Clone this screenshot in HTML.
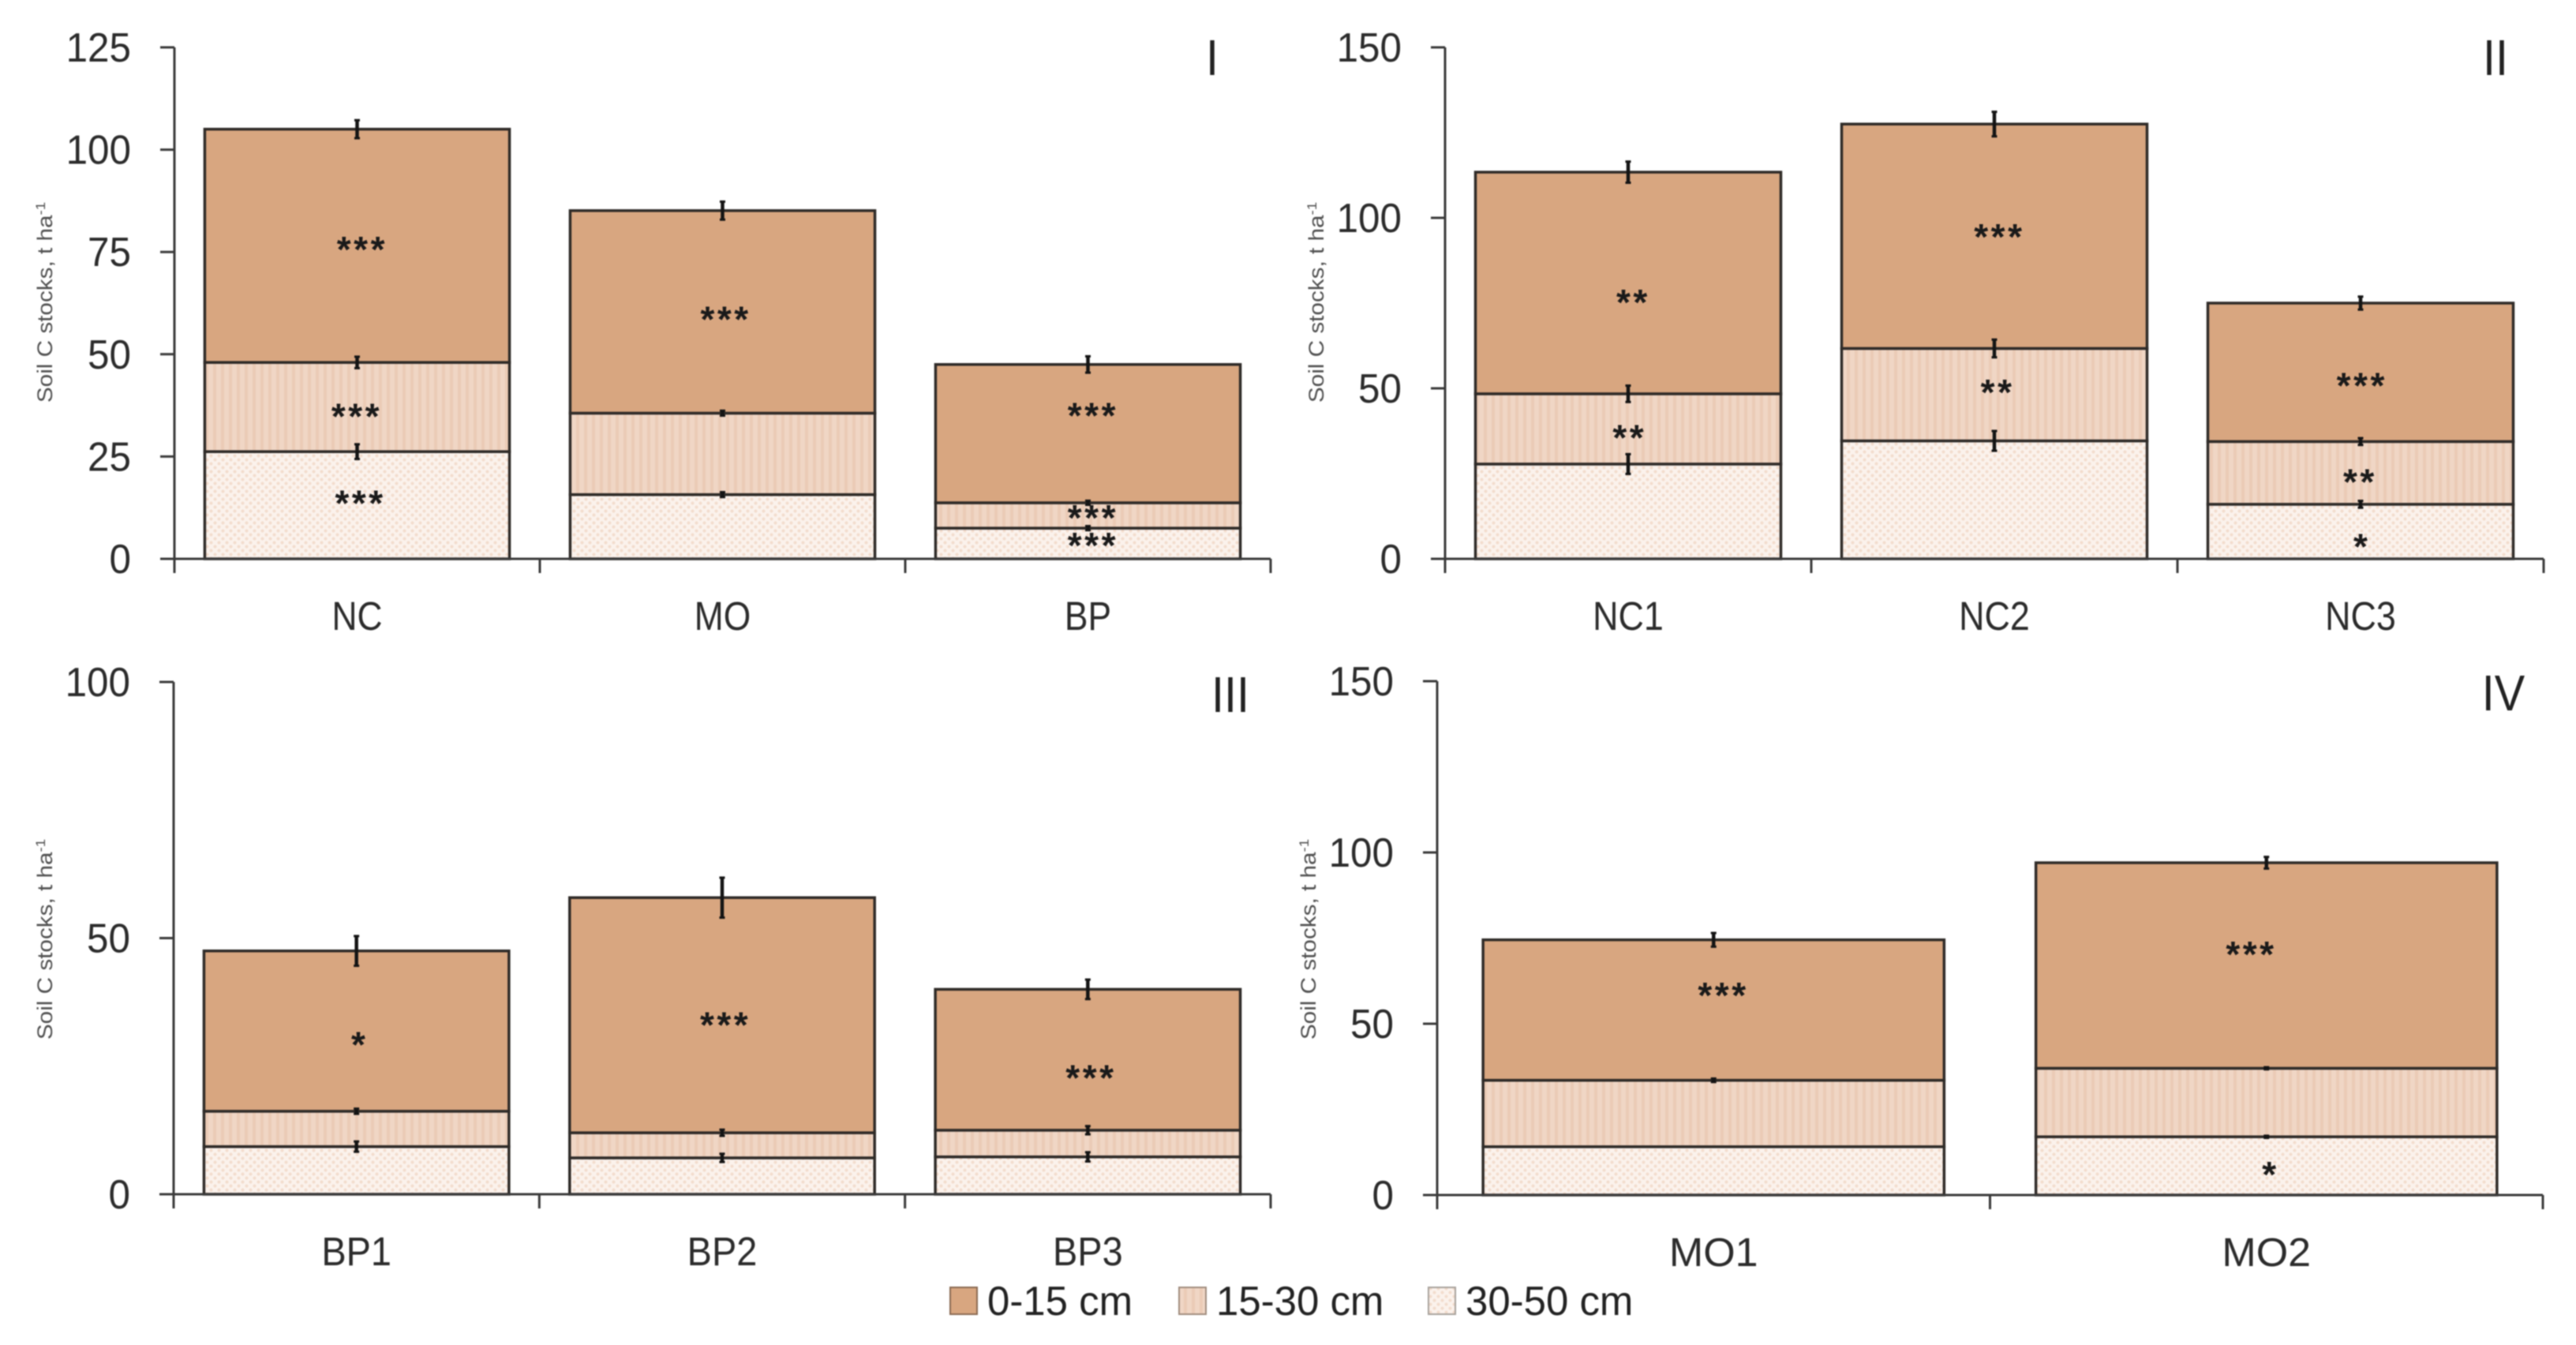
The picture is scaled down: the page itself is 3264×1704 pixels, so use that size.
<!DOCTYPE html>
<html lang="en">
<head>
<meta charset="utf-8">
<title>Soil C stocks by depth</title>
<style>
html,body{margin:0;padding:0;background:#fff;width:3264px;height:1704px;overflow:hidden}
svg{display:block;filter:blur(0.9px)}
text{font-family:"Liberation Sans",sans-serif}
</style>
</head>
<body>
<svg id="chart" xmlns="http://www.w3.org/2000/svg" width="3264" height="1704" viewBox="0 0 3264 1704">
<defs>
<pattern id="hatch-mid" width="10" height="10" patternUnits="userSpaceOnUse">
<rect width="10" height="10" fill="#f0d6c5"/>
<rect x="0" width="4" height="10" fill="#ebcbb6"/>
</pattern>
<pattern id="hatch-low" width="10" height="10" patternUnits="userSpaceOnUse">
<rect width="10" height="10" fill="#fbf2ec"/>
<circle cx="2.5" cy="2.5" r="2" fill="#f3dccd"/>
<circle cx="7.5" cy="7.5" r="2" fill="#f3dccd"/>
</pattern>
</defs>
</svg>
<script>
// Panel I
const catsI = ['NC', 'MO', 'BP'];
const ticksI = [0, 25, 50, 75, 100, 125];
const low30to50I = [26.2, 15.7, 7.5];
const mid15to30I = [21.8, 19.9, 6.2];
const top0to15I = [57, 49.5, 33.8];
const errLowI = [1.8, 0.6, 0.5];
const errMidI = [1.4, 0.6, 0.5];
const errTopI = [2.2, 2.2, 2];
const starPosI = [0.51, 0.495, 0.505, 1.505, 2.51, 2.51, 2.51];
const starLevelI = [76.6, 35.8, 14.6, 59.5, 36, 11, 4.2];
const starTextI = ['***', '***', '***', '***', '***', '***', '***'];

// Panel II
const catsII = ['NC1', 'NC2', 'NC3'];
const ticksII = [0, 50, 100, 150];
const low30to50II = [27.8, 34.6, 16];
const mid15to30II = [20.6, 27.1, 18.4];
const top0to15II = [65, 65.8, 40.6];
const errLowII = [2.9, 2.9, 1];
const errMidII = [2.4, 2.6, 1];
const errTopII = [3.1, 3.6, 1.9];
const starPosII = [0.51, 0.50, 1.51, 1.505, 2.50, 2.495, 2.50];
const starLevelII = [76.4, 36.7, 95.6, 50, 52, 23.7, 4.8];
const starTextII = ['**', '**', '***', '**', '***', '**', '*'];

// Panel III
const catsIII = ['BP1', 'BP2', 'BP3'];
const ticksIII = [0, 50, 100];
const low30to50III = [9.3, 7.1, 7.3];
const mid15to30III = [6.9, 4.9, 5.2];
const top0to15III = [31.3, 45.9, 27.5];
const errLowIII = [1, 0.8, 0.9];
const errMidIII = [0.5, 0.6, 0.8];
const errTopIII = [2.9, 3.9, 1.9];
const starPosIII = [0.505, 1.505, 2.505];
const starLevelIII = [30, 33.8, 23.5];
const starTextIII = ['*', '***', '***'];

// Panel IV
const catsIV = ['MO1', 'MO2'];
const ticksIV = [0, 50, 100, 150];
const low30to50IV = [14.1, 17];
const mid15to30IV = [19.4, 20];
const top0to15IV = [41, 60];
const errLowIV = [0, 0.3];
const errMidIV = [0.5, 0.3];
const errTopIV = [2, 1.7];
const starPosIV = [0.515, 1.47, 1.505];
const starLevelIV = [59.4, 71.4, 7.2];
const starTextIV = ['***', '***', '*'];

const legendLabels = ['0-15 cm', '15-30 cm', '30-50 cm'];

const svg = document.getElementById('chart');
const NS = 'http://www.w3.org/2000/svg';
const FILL_TOP = '#d8a680';
const FILL_MID = 'url(#hatch-mid)';
const FILL_LOW = 'url(#hatch-low)';

function make(tag, attrs, parent) {
  const el = document.createElementNS(NS, tag);
  for (const k in attrs) el.setAttribute(k, attrs[k]);
  (parent || svg).appendChild(el);
  return el;
}

function label(parent, x, y, str, size, anchor, sx, fill) {
  const t = make('text', {
    transform: 'translate(' + x + ' ' + y + ') scale(' + sx + ' 1)',
    'font-size': size,
    'text-anchor': anchor,
    fill: fill
  }, parent);
  t.textContent = str;
  return t;
}

function drawPanel(cfg) {
  const g = make('g', {}, svg);
  
  

  const y = v => cfg.baseY - (v / cfg.maxV) * (cfg.baseY - cfg.topY);
  const catW = (cfg.right - cfg.axisX) / cfg.cats.length;
  const x = p => cfg.axisX + p * catW;
  const barW = catW * 0.834;

  // bars
  cfg.cats.forEach((cat, i) => {
    const bg = make('g', {}, g);
    
    
    const left = x(i + 0.5) - barW / 2;
    const s1 = cfg.low[i];
    const s2 = s1 + cfg.mid[i];
    const s3 = s2 + cfg.top[i];
    const segments = [
      [0, s1, FILL_LOW, 'depth-30-50'],
      [s1, s2, FILL_MID, 'depth-15-30'],
      [s2, s3, FILL_TOP, 'depth-0-15']
    ];
    segments.forEach(seg => {
      const r = make('rect', {
        x: left,
        y: y(seg[1]),
        width: barW,
        height: y(seg[0]) - y(seg[1]),
        fill: seg[2],
        stroke: '#2f2b28',
        'stroke-width': 3.5
      }, bg);
      
      
    });
    const errs = [[s1, cfg.errLow[i]], [s2, cfg.errMid[i]], [s3, cfg.errTop[i]]];
    errs.forEach(e => {
      if (e[1] <= 0) return;
      const cx = x(i + 0.5);
      const eg = make('g', { stroke: '#141414' }, bg);
      
      
      make('line', { x1: cx, x2: cx, y1: y(e[0] + e[1]), y2: y(e[0] - e[1]), 'stroke-width': 4.5 }, eg);
      make('line', { x1: cx - 3.5, x2: cx + 3.5, y1: y(e[0] + e[1]), y2: y(e[0] + e[1]), 'stroke-width': 3 }, eg);
      make('line', { x1: cx - 3.5, x2: cx + 3.5, y1: y(e[0] - e[1]), y2: y(e[0] - e[1]), 'stroke-width': 3 }, eg);
    });
  });

  // axes
  const axisStyle = { stroke: '#3a3a3a', 'stroke-width': 3 };
  const yAxis = make('g', axisStyle, g);
  
  
  make('line', { x1: cfg.axisX, x2: cfg.axisX, y1: cfg.topY, y2: cfg.baseY + 18 }, yAxis);
  cfg.ticks.forEach(v => {
    make('line', { x1: cfg.axisX - 18, x2: cfg.axisX, y1: y(v), y2: y(v) }, yAxis);
    const t = label(g, cfg.axisX - 55, y(v) + 18, String(v), 52, 'end', 0.95, '#2b2b2b');
    
    
  });

  const xAxis = make('g', axisStyle, g);
  
  
  make('line', { x1: cfg.axisX, x2: cfg.right, y1: cfg.baseY, y2: cfg.baseY }, xAxis);
  for (let i = 1; i <= cfg.cats.length; i++) {
    make('line', { x1: x(i), x2: x(i), y1: cfg.baseY, y2: cfg.baseY + 18 }, xAxis);
  }
  cfg.cats.forEach((cat, i) => {
    const t = label(g, x(i + 0.5), cfg.baseY + 90, cat, 51, 'middle', cfg.catStretch, '#2b2b2b');
    
    
  });

  // significance stars
  cfg.starText.forEach((s, i) => {
    const t = label(g, x(cfg.starPos[i]) + 1.75, y(cfg.starLevel[i]) + 21, s, 46, 'middle', 1, '#1a1a1a');
    t.setAttribute('font-weight', 'bold');
    t.setAttribute('letter-spacing', '3.5');
    
    
  });

  // y-axis title
  const title = make('text', {
    transform: 'translate(' + cfg.titleX + ' ' + cfg.titleY + ') rotate(-90) scale(1.1 1)',
    'font-size': 27,
    'text-anchor': 'middle',
    fill: '#505050'
  }, g);
  
  
  title.appendChild(document.createTextNode('Soil C stocks, t ha'));
  const sup = make('tspan', { 'font-size': 17, dy: -9 }, title);
  sup.textContent = '-1';

  // panel numeral
  const num = label(g, cfg.numX, cfg.numY, cfg.numeral, 64, 'middle', 0.9, '#222');
  
  
}

drawPanel({
  name: 'panel-i', numeral: 'I', numX: 1536, numY: 95,
  axisX: 221, right: 1610, topY: 60, baseY: 708, maxV: 125,
  titleX: 66, titleY: 383, catStretch: 0.87,
  cats: catsI, ticks: ticksI, low: low30to50I, mid: mid15to30I, top: top0to15I,
  errLow: errLowI, errMid: errMidI, errTop: errTopI,
  starPos: starPosI, starLevel: starLevelI, starText: starTextI
});
drawPanel({
  name: 'panel-ii', numeral: 'II', numX: 3162, numY: 95,
  axisX: 1831, right: 3223, topY: 60, baseY: 708, maxV: 150,
  titleX: 1677, titleY: 383, catStretch: 0.88,
  cats: catsII, ticks: ticksII, low: low30to50II, mid: mid15to30II, top: top0to15II,
  errLow: errLowII, errMid: errMidII, errTop: errTopII,
  starPos: starPosII, starLevel: starLevelII, starText: starTextII
});
drawPanel({
  name: 'panel-iii', numeral: 'III', numX: 1559, numY: 902,
  axisX: 220, right: 1610, topY: 864, baseY: 1513, maxV: 100,
  titleX: 66, titleY: 1190, catStretch: 0.92,
  cats: catsIII, ticks: ticksIII, low: low30to50III, mid: mid15to30III, top: top0to15III,
  errLow: errLowIII, errMid: errMidIII, errTop: errTopIII,
  starPos: starPosIII, starLevel: starLevelIII, starText: starTextIII
});
drawPanel({
  name: 'panel-iv', numeral: 'IV', numX: 3172, numY: 900,
  axisX: 1821, right: 3222, topY: 863, baseY: 1514, maxV: 150,
  titleX: 1667, titleY: 1190, catStretch: 1.02,
  cats: catsIV, ticks: ticksIV, low: low30to50IV, mid: mid15to30IV, top: top0to15IV,
  errLow: errLowIV, errMid: errMidIV, errTop: errTopIV,
  starPos: starPosIV, starLevel: starLevelIV, starText: starTextIV
});

// legend
const legend = make('g', {}, svg);


const legendFills = [FILL_TOP, FILL_MID, FILL_LOW];
const legendStroke = ['#8a6a52', '#a08c7e', '#a8a29c'];
const legendStart = [1204, 1494, 1810];
legendLabels.forEach((lab, i) => {
  const e = make('g', {}, legend);
  
  
  make('rect', {
    x: legendStart[i], y: 1631, width: 34, height: 34,
    fill: legendFills[i], stroke: legendStroke[i], 'stroke-width': 2
  }, e);
  label(e, legendStart[i] + 47, 1666, lab, 52, 'start', 0.98, '#222');
});
</script>
</body>
</html>
